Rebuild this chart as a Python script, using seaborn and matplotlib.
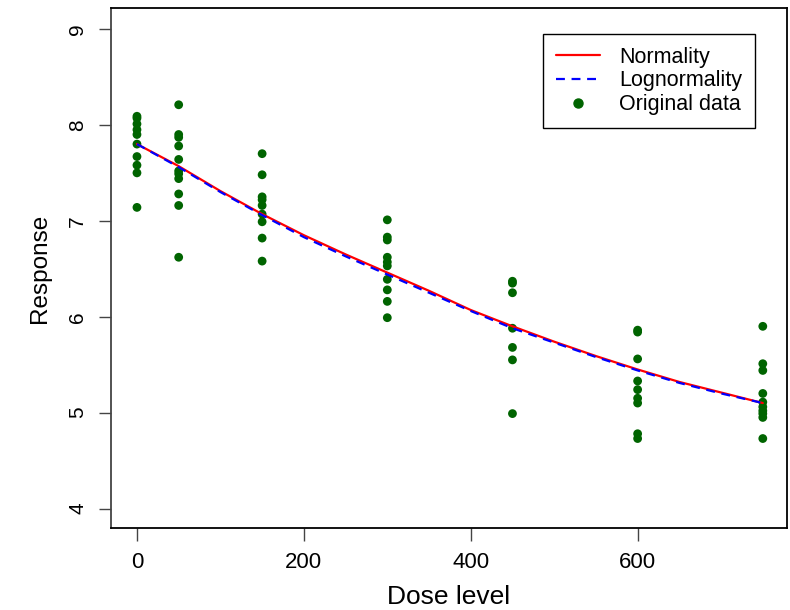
import matplotlib
matplotlib.use("Agg")
import matplotlib.pyplot as plt
import seaborn as sns
import pandas as pd
from matplotlib.lines import Line2D

# ---- data ----
dose_0 = [8.09, 8.07, 8.01, 7.95, 7.90, 7.80, 7.67, 7.58, 7.50, 7.14]
dose_50 = [8.21, 7.90, 7.87, 7.78, 7.64, 7.52, 7.49, 7.44, 7.28, 7.16, 6.62]
dose_150 = [7.70, 7.48, 7.25, 7.22, 7.16, 7.07, 6.99, 6.82, 6.58]
dose_300 = [7.01, 6.83, 6.80, 6.62, 6.57, 6.53, 6.39, 6.28, 6.16, 5.99]
dose_450 = [6.37, 6.35, 6.25, 5.88, 5.68, 5.55, 4.99]
dose_600 = [5.86, 5.84, 5.56, 5.33, 5.24, 5.15, 5.10, 4.78, 4.73]
dose_750 = [5.90, 5.51, 5.44, 5.20, 5.11, 5.06, 5.02, 4.99, 4.95, 4.73]
dose_levels = [0, 50, 150, 300, 450, 600, 750]

curve_dose = [0, 50, 100, 150, 200, 250, 300, 350, 400, 450, 500, 550, 600, 650, 700, 750]
normal_fit = [7.80, 7.57, 7.31, 7.07, 6.85, 6.65, 6.46, 6.27, 6.07, 5.90, 5.74, 5.59, 5.45, 5.32, 5.21, 5.10]
lognormal_fit = [7.80, 7.56, 7.30, 7.06, 6.83, 6.63, 6.44, 6.25, 6.06, 5.88, 5.73, 5.58, 5.44, 5.31, 5.20, 5.10]

x_ticks = [0, 200, 400, 600]
y_ticks = [4, 5, 6, 7, 8, 9]

# ---- build tables ----
groups = [dose_0, dose_50, dose_150, dose_300, dose_450, dose_600, dose_750]
rows = []
for d, vals in zip(dose_levels, groups):
    for v in vals:
        rows.append({"dose": d, "response": v})
pts = pd.DataFrame(rows)
curves = pd.DataFrame({"dose": curve_dose, "normal": normal_fit, "lognormal": lognormal_fit})

sns.set_theme(style="ticks")
plt.rcParams["font.family"] = ["Liberation Sans", "DejaVu Sans"]
plt.rcParams["text.color"] = "black"
plt.rcParams["axes.labelcolor"] = "black"
plt.rcParams["xtick.color"] = "#444444"
plt.rcParams["ytick.color"] = "#444444"
plt.rcParams["xtick.labelcolor"] = "black"
plt.rcParams["ytick.labelcolor"] = "black"

fig = plt.figure(figsize=(7.9, 6.1), dpi=100)
ax = fig.add_axes([0.1401, 0.1344, 0.8561, 0.8525])

sns.scatterplot(data=pts, x="dose", y="response", ax=ax, color="#006400",
                s=40, edgecolor="none", linewidth=0, zorder=2)
sns.lineplot(data=curves, x="dose", y="normal", ax=ax, color="red",
             linewidth=1.6, zorder=3)
sns.lineplot(data=curves, x="dose", y="lognormal", ax=ax, color="blue",
             linewidth=1.6, linestyle=(0, (4, 3)), zorder=4)

ax.set_xlim(-31.5, 779)
ax.set_ylim(3.797, 9.219)
ax.set_xticks(x_ticks)
ax.set_yticks(y_ticks)
ax.set_xticklabels([str(t) for t in x_ticks], fontsize=16)
ax.set_yticklabels([str(t) for t in y_ticks], fontsize=15, rotation=90, va="center")
ax.tick_params(axis="both", direction="out", length=9, width=1, pad=8)
for s in ax.spines.values():
    s.set_visible(True)
    s.set_linewidth(1.3)
    s.set_color("black")
ax.spines["left"].set_color("#444444")

ax.set_xlabel("Dose level", fontsize=19, labelpad=9)
ax.set_ylabel("Response", fontsize=17.5, labelpad=12)

handles = [
    Line2D([0], [0], color="red", linewidth=1.6),
    Line2D([0], [0], color="blue", linewidth=1.6, linestyle=(0, (4, 3))),
    Line2D([0], [0], color="#006400", marker="o", linestyle="none", markersize=6.5),
]
leg = ax.legend(handles, ["Normality", "Lognormality", "Original data"],
                loc="upper right", bbox_to_anchor=(0.9527, 0.95), borderaxespad=0,
                fontsize=15.5, frameon=True, fancybox=False, edgecolor="black",
                framealpha=1, handlelength=2.05, borderpad=0.6, labelspacing=0.12,
                handletextpad=0.9)
leg.get_frame().set_linewidth(1.0)

fig.savefig("out.png", dpi=100)
